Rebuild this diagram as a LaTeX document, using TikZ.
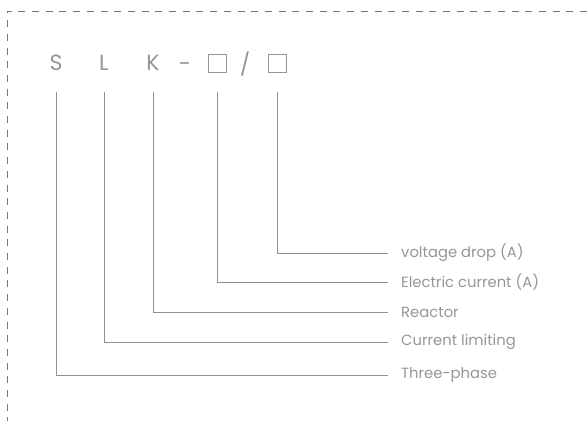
\documentclass[tikz,border=0pt]{standalone}
\usepackage{fontspec}
\setmainfont{Poppins}
\usepackage{tikz}
\usetikzlibrary{positioning,calc}
\definecolor{codegrey}{RGB}{150,150,150}
\definecolor{linegrey}{RGB}{145,145,145}
\definecolor{frameslate}{RGB}{110,120,135}

\begin{document}
\begin{tikzpicture}[x=1pt,y=-1pt,
    letter/.style={font=\fontsize{22}{22}\selectfont, text=codegrey, inner sep=0pt, anchor=center},
    slot/.style={rectangle, draw=codegrey, line width=0.8pt, minimum size=18pt, inner sep=0pt},
    label/.style={font=\fontsize{14.8}{14.8}\selectfont, text=codegrey, anchor=west, inner sep=0pt},
    lead/.style={linegrey, line width=0.9pt}
]
    \useasboundingbox (0,0) rectangle (587,421);
    \draw[frameslate, line width=0.8pt, dash pattern=on 7pt off 6.7pt] (587,11) -- (7,11) -- (7,421);

    % model code
    \node[letter] (s) at (56,63) {S};
    \node[letter] (l) at (104,63) {L};
    \node[letter] (k) at (153,63) {K};
    \node[letter] (dash) at (185,67) {-};
    \node[slot] (b1) at (217,63) {};
    \node[letter] (slash) at (245,64) {/};
    \node[slot] (b2) at (277.5,63) {};

    % meanings
    \node[label] (t5) at (401,253) {voltage drop (A)};
    \node[label] (t4) at (401,282) {Electric current (A)};
    \node[label] (t3) at (401,312) {Reactor};
    \node[label] (t2) at (401,342) {Current limiting};
    \node[label] (t1) at (401,375) {Three-phase};

    \draw[lead] (s.center |- 0,92) |- ([xshift=-13pt]t1.west);
    \draw[lead] (l.center |- 0,92) |- ([xshift=-13pt]t2.west);
    \draw[lead] (k.center |- 0,92) |- ([xshift=-13pt]t3.west);
    \draw[lead] (b1.center |- 0,92) |- ([xshift=-13pt]t4.west);
    \draw[lead] (b2.center |- 0,92) |- ([xshift=-13pt]t5.west);
\end{tikzpicture}
\end{document}
